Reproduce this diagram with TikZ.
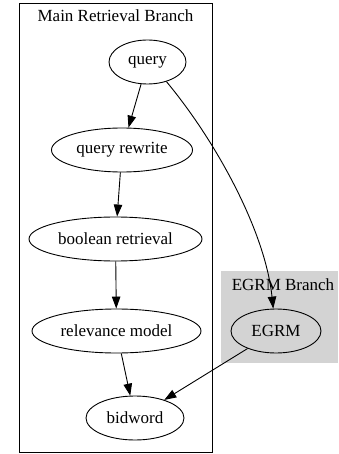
\documentclass[tikz,border=0pt]{standalone}
\usepackage{fontspec}
\setmainfont{Liberation Serif}
\usetikzlibrary{shapes.geometric,arrows.meta}
\definecolor{branchgray}{HTML}{D3D3D3}

\begin{document}
\begin{tikzpicture}
                    [x=1pt,y=-1pt,>={Triangle[length=12pt,width=8.5pt]},
                     op/.style={draw,ellipse,line width=0.9pt,inner sep=0pt,minimum height=44pt,font=\fontsize{17}{20}\selectfont},
                     title/.style={font=\fontsize{17}{20}\selectfont}]

                \useasboundingbox (0,0) rectangle (338,454);

                % the two branches
                \draw[line width=0.9pt] (19,3) rectangle (212,452);
                \node[title] (mainlbl) at (115.5,16) {Main Retrieval Branch};
                \fill[branchgray] (221,271) rectangle (338,363);
                \node[title] (egrmlbl) at (283,285) {EGRM Branch};

                \node[op,minimum width=77pt] (query) at (147.5,62) {query};
                \node[op,minimum width=141pt] (rewrite) at (122,150) {query rewrite};
                \node[op,minimum width=173pt] (boolean) at (115.5,239) {boolean retrieval};
                \node[op,minimum width=169pt] (relevance) at (116.5,331) {relevance model};
                \node[op,minimum width=98pt] (bidword) at (135,418) {bidword};
                \node[op,minimum width=90pt] (egrm) at (276,331) {EGRM};

                    \draw[->,line width=0.9pt] (query) -- (rewrite);
                    \draw[->,line width=0.9pt] (rewrite) -- (boolean);
                    \draw[->,line width=0.9pt] (boolean) -- (relevance);
                    \draw[->,line width=0.9pt] (relevance) -- (bidword);
                    \draw[->,line width=0.9pt] (egrm) -- (bidword);
                    \draw[->,line width=0.9pt] (query.-46) .. controls (215,140) and (265,230) .. (egrm.97);

                \end{tikzpicture}
\end{document}
